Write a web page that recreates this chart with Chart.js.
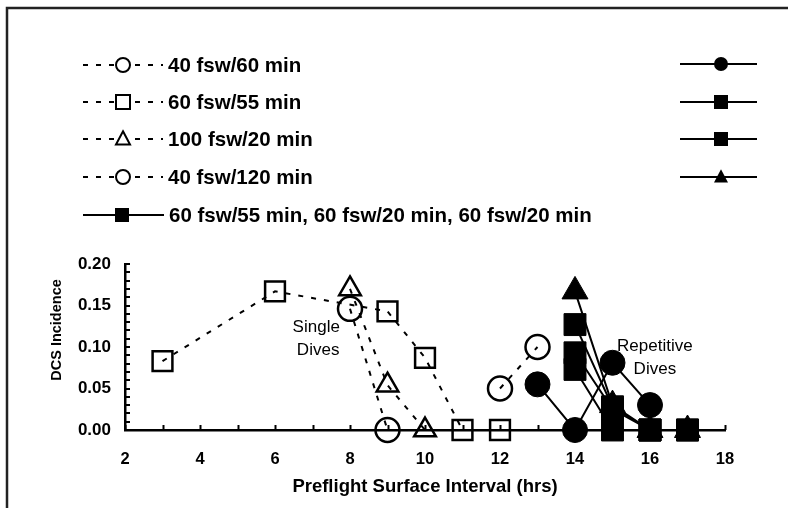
<!DOCTYPE html>
<html>
<head>
<meta charset="utf-8">
<script src="https://cdn.jsdelivr.net/npm/chart.js@4/dist/chart.umd.min.js"></script>
<style>
  html, body { margin: 0; padding: 0; background: #fff; }
  #wrap { width: 788px; height: 508px; }
</style>
</head>
<body>
<div id="wrap"><canvas id="chart" width="788" height="508"></canvas></div>
<script>
/* DCS incidence vs preflight surface interval */

// single dives (open markers, dashed)
const c60Hours = [8, 9];
const c60Dcs = [0.146, 0];
const s55Hours = [3, 6, 9, 10, 11, 12];
const s55Dcs = [0.083, 0.167, 0.143, 0.087, 0, 0];
const t100Hours = [8, 9, 10];
const t100Dcs = [0.17, 0.054, 0];
const c120Hours = [12, 13];
const c120Dcs = [0.05, 0.10];

// repetitive dives (filled markers, solid)
const repSqCHours = [14, 15, 16, 17];
const repSqCDcs = [0.073, 0, 0, 0];
const repCircHours = [13, 14, 15, 16];
const repCircDcs = [0.055, 0, 0.081, 0.03];
const repSqAHours = [14, 15, 16, 17];
const repSqADcs = [0.127, 0.028, 0, 0];
const repSqBHours = [14, 15, 16];
const repSqBDcs = [0.093, 0.025, 0];
const repTriHours = [14, 15, 16, 17];
const repTriDcs = [0.167, 0.03, 0, 0];

const legendLabels = [
  "40 fsw/60 min",
  "60 fsw/55 min",
  "100 fsw/20 min",
  "40 fsw/120 min",
  "60 fsw/55 min, 60 fsw/20 min, 60 fsw/20 min",
  "", "", "", "",
];

const xTicks = [2, 4, 6, 8, 10, 12, 14, 16, 18];
const yTicks = [0, 0.05, 0.10, 0.15, 0.20];

function pts(xs, ys) {
  return xs.map((x, i) => ({ x: x, y: ys[i] }));
}

const FONT = "'Liberation Sans', Arial, sans-serif";
const DASH = [5, 8];

function openSet(label, xs, ys, style, r) {
  return {
    label: label,
    data: pts(xs, ys),
    showLine: true,
    borderColor: "#000",
    borderWidth: 2,
    borderDash: DASH,
    pointStyle: style,
    pointRadius: r,
    pointBorderWidth: 2.5,
    pointBorderColor: "#000",
    pointBackgroundColor: "rgba(0,0,0,0)",
    clip: false,
    filled: false,
  };
}

function filledSet(label, xs, ys, style, r) {
  return {
    label: label,
    data: pts(xs, ys),
    showLine: true,
    borderColor: "#000",
    borderWidth: 2,
    pointStyle: style,
    pointRadius: r,
    pointBorderWidth: 1,
    pointBorderColor: "#000",
    pointBackgroundColor: "#000",
    clip: false,
    filled: true,
  };
}

function drawMarker(ctx, style, x, y, r, filled) {
  ctx.beginPath();
  if (style === "circle") {
    ctx.arc(x, y, r, 0, Math.PI * 2);
  } else if (style === "rect") {
    ctx.rect(x - r, y - r, r * 2, r * 2);
  } else {
    ctx.moveTo(x, y - r * 1.1);
    ctx.lineTo(x + r, y + r * 0.8);
    ctx.lineTo(x - r, y + r * 0.8);
    ctx.closePath();
  }
  if (filled) {
    ctx.fillStyle = "#000";
    ctx.fill();
  } else {
    ctx.fillStyle = "#fff";
    ctx.fill();
    ctx.lineWidth = 2;
    ctx.strokeStyle = "#000";
    ctx.stroke();
  }
}

const legendSlots = [
  { x0: 83, x1: 163, mx: 123, y: 65 },
  { x0: 83, x1: 163, mx: 123, y: 102 },
  { x0: 83, x1: 163, mx: 123, y: 139 },
  { x0: 83, x1: 163, mx: 123, y: 177 },
  { x0: 83, x1: 164, mx: 122, y: 215 },
  { x0: 680, x1: 757, mx: 721, y: 64 },
  { x0: 680, x1: 757, mx: 721, y: 102 },
  { x0: 680, x1: 757, mx: 721, y: 139 },
  { x0: 680, x1: 757, mx: 721, y: 177 },
];

const decorPlugin = {
  id: "decor",
  beforeDatasetsDraw(chart) {
    const ctx = chart.ctx;
    const xs = chart.scales.x;
    const ys = chart.scales.y;
    const area = chart.chartArea;
    ctx.save();
    ctx.strokeStyle = "#000";
    ctx.lineWidth = 2;
    for (let v = xs.min; v <= xs.max; v += 1) {
      const px = Math.round(xs.getPixelForValue(v)) + 0.5;
      ctx.beginPath();
      ctx.moveTo(px, area.bottom);
      ctx.lineTo(px, area.bottom - 5);
      ctx.stroke();
    }
    for (let k = 0; k <= 20; k++) {
      const py = Math.round(ys.getPixelForValue(k * 0.01));
      ctx.beginPath();
      ctx.moveTo(area.left, py);
      ctx.lineTo(area.left + 5, py);
      ctx.stroke();
    }
    ctx.restore();
  },
  afterDraw(chart) {
    const ctx = chart.ctx;
    const xs = chart.scales.x;
    const ys = chart.scales.y;
    ctx.save();

    // outer frame (right and bottom edges fall outside the picture)
    ctx.strokeStyle = "#222";
    ctx.lineWidth = 2.5;
    ctx.beginPath();
    ctx.moveTo(7, 520);
    ctx.lineTo(7, 8);
    ctx.lineTo(800, 8);
    ctx.stroke();

    // legend
    ctx.textBaseline = "middle";
    ctx.textAlign = "left";
    ctx.font = "bold 20.5px " + FONT;
    chart.data.datasets.forEach((ds, i) => {
      const s = legendSlots[i];
      ctx.strokeStyle = "#000";
      ctx.lineWidth = 2;
      ctx.setLineDash(ds.borderDash || []);
      ctx.beginPath();
      ctx.moveTo(s.x0, s.y);
      ctx.lineTo(s.x1, s.y);
      ctx.stroke();
      ctx.setLineDash([]);
      drawMarker(ctx, ds.pointStyle, s.mx, s.y, 7, ds.filled);
      if (legendLabels[i]) {
        ctx.fillStyle = "#000";
        ctx.fillText(legendLabels[i], s.x1 + 5, s.y + 1);
      }
    });

    // y axis title
    ctx.save();
    ctx.translate(57, 330);
    ctx.rotate(-Math.PI / 2);
    ctx.textAlign = "center";
    ctx.font = "bold 14.5px " + FONT;
    ctx.fillStyle = "#000";
    ctx.fillText("DCS Incidence", 0, 0);
    ctx.restore();

    // annotations
    ctx.font = "17px " + FONT;
    ctx.textAlign = "center";
    ctx.fillStyle = "#000";
    ctx.fillText("Single", xs.getPixelForValue(7.1), ys.getPixelForValue(0.124));
    ctx.fillText("Dives", xs.getPixelForValue(7.15), ys.getPixelForValue(0.096));
    ctx.fillText("Repetitive", xs.getPixelForValue(16.13), ys.getPixelForValue(0.101));
    ctx.fillText("Dives", xs.getPixelForValue(16.13), ys.getPixelForValue(0.073));
    ctx.restore();
  },
};

new Chart(document.getElementById("chart"), {
  type: "scatter",
  data: {
    datasets: [
      openSet(legendLabels[0], c60Hours, c60Dcs, "circle", 12),
      openSet(legendLabels[1], s55Hours, s55Dcs, "rect", 14),
      openSet(legendLabels[2], t100Hours, t100Dcs, "triangle", 12.5),
      openSet(legendLabels[3], c120Hours, c120Dcs, "circle", 12),
      filledSet(legendLabels[4], repSqCHours, repSqCDcs, "rect", 15.5),
      filledSet(legendLabels[5], repCircHours, repCircDcs, "circle", 12.5),
      filledSet(legendLabels[6], repSqAHours, repSqADcs, "rect", 15.5),
      filledSet(legendLabels[7], repSqBHours, repSqBDcs, "rect", 15.5),
      filledSet(legendLabels[8], repTriHours, repTriDcs, "triangle", 15),
    ],
  },
  options: {
    responsive: false,
    animation: false,
    layout: { padding: { left: 0, top: 264, right: 63, bottom: 0 } },
    scales: {
      x: {
        type: "linear",
        min: xTicks[0],
        max: xTicks[xTicks.length - 1],
        afterFit: (scale) => { scale.height = 78; },
        afterBuildTicks: (scale) => { scale.ticks = xTicks.map((v) => ({ value: v })); },
        ticks: {
          color: "#000",
          padding: 20,
          font: { family: FONT, size: 16.5, weight: "bold" },
        },
        grid: { display: false, drawTicks: false },
        border: { display: true, color: "#000", width: 2.5 },
        title: {
          display: true,
          text: "Preflight Surface Interval (hrs)",
          color: "#000",
          font: { family: FONT, size: 18.5, weight: "bold" },
          padding: { top: 0, bottom: 10 },
        },
      },
      y: {
        min: yTicks[0],
        max: yTicks[yTicks.length - 1],
        afterFit: (scale) => { scale.width = 125; },
        afterBuildTicks: (scale) => { scale.ticks = yTicks.map((v) => ({ value: v })); },
        ticks: {
          color: "#000",
          padding: 14,
          font: { family: FONT, size: 17, weight: "bold" },
          callback: (v) => Number(v).toFixed(2),
        },
        grid: { display: false, drawTicks: false },
        border: { display: true, color: "#000", width: 2.5 },
      },
    },
    plugins: {
      legend: { display: false },
      tooltip: { enabled: false },
    },
  },
  plugins: [decorPlugin],
});
</script>
</body>
</html>
